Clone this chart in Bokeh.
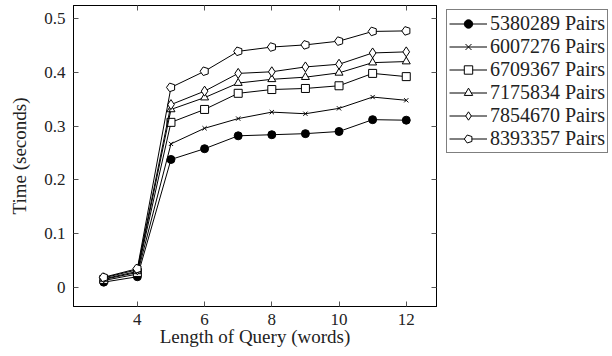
import math
from bokeh.plotting import figure
from bokeh.layouts import row
from bokeh.models import ColumnDataSource, Legend, LegendItem, LinearAxis, FixedTicker, Range1d
from bokeh.embed import file_html
from bokeh.resources import INLINE

x_words = [3, 4, 5, 6, 7, 8, 9, 10, 11, 12]
series_names = ["5380289 Pairs", "6007276 Pairs", "6709367 Pairs",
                "7175834 Pairs", "7854670 Pairs", "8393357 Pairs"]
t_5380289 = [0.010, 0.020, 0.238, 0.258, 0.282, 0.284, 0.286, 0.290, 0.312, 0.311]
t_6007276 = [0.013, 0.025, 0.267, 0.296, 0.314, 0.326, 0.323, 0.333, 0.354, 0.348]
t_6709367 = [0.015, 0.028, 0.307, 0.331, 0.361, 0.368, 0.370, 0.375, 0.398, 0.392]
t_7175834 = [0.016, 0.030, 0.331, 0.353, 0.380, 0.387, 0.391, 0.399, 0.418, 0.420]
t_7854670 = [0.018, 0.033, 0.340, 0.365, 0.398, 0.401, 0.410, 0.415, 0.436, 0.438]
t_8393357 = [0.019, 0.035, 0.372, 0.402, 0.439, 0.447, 0.451, 0.458, 0.476, 0.477]
x_ticks = [4, 6, 8, 10, 12]
y_ticks = [0, 0.1, 0.2, 0.3, 0.4, 0.5]
y_tick_labels = ["0", "0.1", "0.2", "0.3", "0.4", "0.5"]

all_series = [t_5380289, t_6007276, t_6709367, t_7175834, t_7854670, t_8393357]
markers = ["circle", "x", "square", "triangle", "diamond", "pentagon"]

FONT = "Liberation Serif"

p = figure(frame_width=363, frame_height=301,
           output_backend="svg", toolbar_location=None,
           x_range=Range1d(2.1, 12.9), y_range=Range1d(-0.0353, 0.5242),
           min_border_left=73, min_border_top=5, min_border_right=2, min_border_bottom=44)
p.xgrid.visible = False
p.ygrid.visible = False
p.outline_line_color = "black"
p.outline_line_width = 1
p.background_fill_color = "white"
p.border_fill_color = "white"

def style_axis(ax, ticks, labels=True):
    ax.ticker = FixedTicker(ticks=ticks)
    ax.major_tick_in = 5
    ax.major_tick_out = 0
    ax.minor_tick_line_color = None
    ax.major_tick_line_color = "#555555"
    ax.axis_line_color = "black"
    ax.major_label_text_font = FONT
    ax.major_label_text_font_size = "17px"
    ax.major_label_text_color = "#222222"
    ax.axis_label_text_font = FONT
    ax.axis_label_text_font_size = "19px"
    ax.axis_label_text_font_style = "normal"
    ax.axis_label_text_color = "#222222"
    if not labels:
        ax.major_label_overrides = {t: "" for t in ticks}
        ax.major_label_standoff = 0
        ax.axis_label_standoff = 0

xa = p.xaxis[0]
ya = p.yaxis[0]
style_axis(xa, x_ticks)
style_axis(ya, y_ticks)
ya.major_label_overrides = {v: s for v, s in zip(y_ticks, y_tick_labels)}
xa.axis_label = "Length of Query (words)"
ya.axis_label = "Time (seconds)"
xa.major_label_standoff = 7
xa.axis_label_standoff = -2
ya.major_label_standoff = 8
ya.axis_label_standoff = 11

top_ax = LinearAxis()
style_axis(top_ax, x_ticks, labels=False)
p.add_layout(top_ax, "above")
right_ax = LinearAxis()
style_axis(right_ax, y_ticks, labels=False)
p.add_layout(right_ax, "right")

# legend figure (its renderers use the same data but lie outside its ranges)
lp = figure(width=174, height=352, output_backend="svg", toolbar_location=None,
            x_range=Range1d(100, 101), y_range=Range1d(100, 101),
            min_border_left=0, min_border_top=0, min_border_right=0, min_border_bottom=0)
lp.axis.visible = False
lp.xgrid.visible = False
lp.ygrid.visible = False
lp.outline_line_color = None
lp.background_fill_color = "white"
lp.border_fill_color = "white"

def draw(fig, src, mk):
    ln = fig.line("x", "y", source=src, line_color="black", line_width=1)
    if mk == "circle":
        g = fig.scatter("x", "y", source=src, marker="circle", size=8,
                        fill_color="black", line_color="black")
    elif mk == "x":
        g = fig.scatter("x", "y", source=src, marker="x", size=6,
                        line_color="black", line_width=1)
    elif mk == "square":
        g = fig.scatter("x", "y", source=src, marker="square", size=8,
                        fill_color="white", line_color="black", line_width=1)
    elif mk == "triangle":
        g = fig.scatter("x", "y", source=src, marker="triangle", size=8,
                        fill_color="white", line_color="black", line_width=1)
    elif mk == "diamond":
        g = fig.scatter("x", "y", source=src, marker="diamond", size=10,
                        fill_color="white", line_color="black", line_width=1)
    else:
        g = fig.ngon("x", "y", source=src, radius=4.5, radius_units="screen", n=5,
                     angle=math.pi / 2, fill_color="white", line_color="black", line_width=1)
    return ln, g

items = []
for name, ys, mk in zip(series_names, all_series, markers):
    src = ColumnDataSource(dict(x=x_words, y=ys))
    draw(p, src, mk)
    ln2, g2 = draw(lp, src, mk)
    items.append(LegendItem(label=name, renderers=[ln2, g2]))

legend = Legend(items=items, location="top_right")
legend.label_text_font = FONT
legend.label_text_font_size = "20px"
legend.label_text_color = "#222222"
legend.border_line_color = "black"
legend.border_line_width = 1
legend.background_fill_color = "white"
legend.background_fill_alpha = 1
legend.glyph_width = 38
legend.glyph_height = 21
legend.label_height = 21
legend.label_standoff = 3
legend.spacing = 0
legend.padding = 2
legend.margin = 4
lp.add_layout(legend, "center")

layout = row(p, lp, spacing=0)
open("out.html", "w").write(file_html(layout, INLINE))
